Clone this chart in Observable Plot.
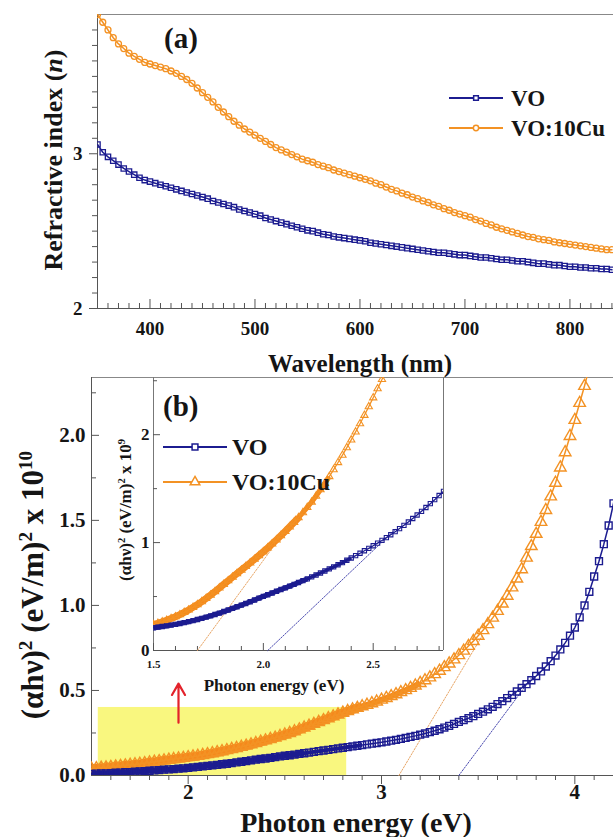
<!DOCTYPE html>
<html><head><meta charset="utf-8">
<script src="https://cdn.jsdelivr.net/npm/d3@7"></script>
<script src="https://cdn.jsdelivr.net/npm/@observablehq/plot@0.6"></script>
<style>
html,body{margin:0;padding:0;background:#fff;}
#root{position:relative;width:613px;height:837px;overflow:hidden;font-family:"Liberation Serif","Times New Roman",serif;font-weight:bold;color:#151515;}
.abs{position:absolute;white-space:nowrap;line-height:1;}
.ctr{transform:translate(-50%,-50%);}
.rot{transform:translate(-50%,-50%) rotate(-90deg);}
.plot{position:absolute;left:0;}
sup{font-size:0.62em;vertical-align:0.55em;line-height:0;}
</style></head><body><div id="root"></div>
<script>
// ---------- colours ----------
const blue = "#1c1c90", orange = "#f39224", red = "#e3222b";

// ---------- panel (a): refractive index vs wavelength ----------
const wlStart = 350, wlStep = 5; // nm, sampling grid
const nVO = [3.06,3.01,2.98,2.955,2.93,2.905,2.885,2.865,2.845,2.83,
2.82,2.81,2.80,2.79,2.78,2.77,2.76,2.75,2.74,2.73,
2.72,2.71,2.695,2.685,2.675,2.665,2.655,2.64,2.63,2.62,
2.61,2.60,2.585,2.575,2.565,2.555,2.545,2.535,2.525,2.515,
2.505,2.50,2.49,2.48,2.475,2.465,2.46,2.455,2.45,2.445,
2.44,2.435,2.425,2.42,2.415,2.41,2.405,2.40,2.395,2.39,
2.385,2.38,2.375,2.37,2.365,2.36,2.36,2.355,2.35,2.345,
2.345,2.34,2.335,2.33,2.33,2.325,2.32,2.315,2.315,2.31,
2.305,2.305,2.30,2.295,2.29,2.29,2.285,2.28,2.28,2.275,
2.27,2.27,2.265,2.265,2.26,2.26,2.255,2.255,2.25];
const nVOCu = [3.90,3.85,3.80,3.75,3.71,3.68,3.65,3.63,3.61,3.59,
3.58,3.57,3.56,3.55,3.535,3.52,3.50,3.48,3.455,3.425,
3.395,3.365,3.335,3.30,3.27,3.24,3.21,3.185,3.16,3.14,
3.12,3.10,3.08,3.06,3.04,3.025,3.01,2.995,2.98,2.965,
2.955,2.945,2.93,2.92,2.91,2.895,2.885,2.875,2.865,2.855,
2.845,2.835,2.825,2.81,2.80,2.785,2.77,2.76,2.745,2.735,
2.72,2.71,2.695,2.685,2.67,2.66,2.645,2.635,2.62,2.61,
2.60,2.59,2.575,2.565,2.55,2.54,2.525,2.515,2.505,2.495,
2.485,2.475,2.465,2.46,2.45,2.445,2.44,2.43,2.425,2.42,
2.415,2.41,2.405,2.40,2.395,2.39,2.385,2.38,2.38];
const aXMajor = [400,500,600,700,800];
const aXMinor = [360,370,380,390,410,420,430,440,450,460,470,480,490,510,520,530,540,550,560,570,580,590,610,620,630,640,650,660,670,680,690,710,720,730,740,750,760,770,780,790,810,820,830,840];
const aYMajor = [2,3];
const aYMinor = [2.1,2.2,2.3,2.4,2.5,2.6,2.7,2.8,2.9,3.1,3.2,3.3,3.4,3.5,3.6,3.7,3.8];

// ---------- panel (b): Tauc plot ----------
const eStart = 1.5, eStep = 0.025; // eV, sampling grid
const absVO = [0.010,0.011,0.012,0.013,0.014,0.016,0.017,0.019,0.020,0.022,
0.024,0.026,0.028,0.030,0.032,0.034,0.036,0.038,0.040,0.042,
0.045,0.048,0.051,0.054,0.057,0.060,0.063,0.066,0.069,0.073,
0.077,0.081,0.085,0.089,0.093,0.097,0.100,0.104,0.108,0.112,
0.116,0.119,0.123,0.127,0.131,0.135,0.139,0.143,0.147,0.151,
0.155,0.159,0.163,0.167,0.171,0.175,0.179,0.183,0.187,0.191,
0.195,0.200,0.205,0.210,0.215,0.221,0.227,0.233,0.240,0.247,
0.255,0.263,0.272,0.282,0.292,0.303,0.315,0.326,0.337,0.349,
0.362,0.375,0.389,0.404,0.420,0.437,0.455,0.474,0.494,0.515,
0.537,0.560,0.585,0.612,0.641,0.672,0.705,0.741,0.780,0.822,
0.870,0.930,1.000,1.080,1.170,1.260,1.360,1.470,1.600,1.740];
const absVOCu = [0.040,0.042,0.045,0.047,0.050,0.053,0.056,0.059,0.062,0.065,
0.068,0.072,0.076,0.080,0.084,0.088,0.092,0.096,0.100,0.103,
0.107,0.111,0.115,0.120,0.125,0.130,0.136,0.142,0.148,0.155,
0.161,0.168,0.175,0.182,0.190,0.198,0.206,0.214,0.222,0.231,
0.240,0.249,0.259,0.270,0.281,0.292,0.303,0.314,0.325,0.336,
0.347,0.358,0.368,0.378,0.388,0.397,0.406,0.415,0.424,0.434,
0.445,0.455,0.466,0.477,0.489,0.501,0.514,0.528,0.543,0.559,
0.576,0.595,0.615,0.636,0.658,0.682,0.707,0.733,0.761,0.790,
0.821,0.854,0.889,0.927,0.967,1.010,1.056,1.105,1.157,1.212,
1.280,1.348,1.420,1.490,1.560,1.640,1.720,1.810,1.900,1.995,
2.090,2.190,2.290,2.400,2.510];
const tangentMainVO = [[3.40,0],[3.78,0.58]];
const tangentMainCu = [[3.09,0],[3.52,0.82]];
const highlightBox = [{x1:1.535, x2:2.82, y1:0, y2:0.40}];
const arrowMark = [{x:1.95, y1:0.31, y2:0.54}];
const bXMajor = [2,3,4];
const bXMinor = [1.6,1.7,1.8,1.9,2.1,2.2,2.3,2.4,2.5,2.6,2.7,2.8,2.9,3.1,3.2,3.3,3.4,3.5,3.6,3.7,3.8,3.9,4.1];
const bYMajor = [0,0.5,1.0,1.5,2.0];
const bYMinor = [0.25,0.75,1.25,1.75,2.25];
// energy limits below which the measured points sit so close they merge into a solid band
const bandVO = [2.6, 2.9], bandCu = [2.9, 3.2];

// ---------- inset of (b) ----------
const insStart = 1.5, insStep = 0.02; // eV, sampling grid
const insetVO = [0.210,0.216,0.222,0.228,0.235,0.242,0.250,0.258,0.267,0.277,
0.287,0.298,0.309,0.321,0.334,0.347,0.361,0.375,0.390,0.405,
0.420,0.436,0.452,0.468,0.485,0.501,0.517,0.533,0.549,0.565,
0.581,0.597,0.613,0.630,0.647,0.664,0.682,0.700,0.718,0.737,
0.756,0.775,0.795,0.815,0.836,0.857,0.879,0.901,0.924,0.947,
0.971,0.995,1.020,1.046,1.073,1.101,1.130,1.160,1.191,1.223,
1.256,1.290,1.325,1.361,1.398,1.436,1.475];
const insetVOCu = [0.240,0.252,0.265,0.280,0.296,0.313,0.332,0.353,0.376,0.400,
0.426,0.454,0.483,0.514,0.546,0.580,0.614,0.647,0.680,0.713,
0.746,0.779,0.812,0.846,0.880,0.915,0.951,0.988,1.026,1.065,
1.105,1.146,1.188,1.232,1.278,1.326,1.376,1.432,1.490,1.550,
1.612,1.676,1.742,1.810,1.880,1.952,2.026,2.102,2.180,2.260,
2.342,2.426,2.512,2.600];
const tangentInsetVO = [[2.02,0],[2.60,1.12]];
const tangentInsetCu = [[1.70,0],[2.12,1.17]];
const insXMajor = [1.5,2.0,2.5];
const insXMinor = [1.6,1.7,1.8,1.9,2.1,2.2,2.3,2.4,2.6,2.7,2.8];
const insYMajor = [0,1,2];
const insYMinor = [0.5,1.5,2.5];
const insBandVO = [2.2, 2.4], insBandCu = [2.16, 2.3];

// ---------- build rows ----------
const rowsA = (arr, s) => arr.map((n, i) => ({w: wlStart + wlStep * i, n, s}));
const rowsE = (arr, s, st, sp) => arr.map((v, i) => ({e: +(st + sp * i).toFixed(3), v, s}));
const seg = (pts) => pts.map(([e, v]) => ({e, v}));

const root = document.getElementById("root");
const baseStyle = {fontFamily: "Liberation Serif, serif", fontWeight: "bold", color: "#151515", background: "transparent", overflow: "visible"};
const axisCol = "#555";

// ---- Panel A ----
const aW = 613, aH = 372, aML = 97, aMT = 14, aMB = 64;
const aFH = aH - aMT - aMB, aFW = aW - aML;
const rA_Cu = rowsA(nVOCu, "VO:10Cu"), rA_VO = rowsA(nVO, "VO");
const plotA = Plot.plot({
  width: aW, height: aH, marginLeft: aML, marginRight: 0, marginTop: aMT, marginBottom: aMB,
  x: {domain: [350, 841.5]}, y: {domain: [2, 3.9]},
  style: baseStyle,
  marks: [
    Plot.ruleY([3.9], {stroke: "#888"}),
    Plot.ruleX([350], {stroke: axisCol}),
    Plot.ruleY([2], {stroke: axisCol}),
    Plot.ruleX(aXMinor, {stroke: axisCol, insetTop: aFH - 5}),
    Plot.ruleX(aXMajor, {stroke: axisCol, insetTop: aFH - 9}),
    Plot.ruleY(aYMinor, {stroke: axisCol, insetLeft: -5, insetRight: aFW}),
    Plot.ruleY(aYMajor, {stroke: axisCol, insetLeft: -8, insetRight: aFW}),
    Plot.axisX({ticks: aXMajor, tickSize: 0, tickPadding: 13, fontSize: 19, fontWeight: "bold", tickFormat: "d", label: null}),
    Plot.axisY({ticks: aYMajor, tickSize: 0, tickPadding: 15, fontSize: 19, fontWeight: "bold", tickFormat: "d", label: null}),
    Plot.line(rA_Cu, {x: "w", y: "n", stroke: orange, strokeWidth: 1.5, clip: true}),
    Plot.dot(rA_Cu, {x: "w", y: "n", symbol: "circle", r: 3, stroke: orange, fill: "none", strokeWidth: 1.3, clip: true}),
    Plot.line(rA_VO, {x: "w", y: "n", stroke: blue, strokeWidth: 1.5, clip: true}),
    Plot.dot(rA_VO, {x: "w", y: "n", symbol: "square", r: 3, stroke: blue, fill: "none", strokeWidth: 1.3, clip: true})
  ]
});
plotA.classList.add("plot"); plotA.style.top = "0px";
root.appendChild(plotA);

// ---- Panel B main ----
const bTop = 365, bW = 613, bH = 472, bML = 91, bMT = 12, bMB = 62;
const bFH = bH - bMT - bMB, bFW = bW - bML;
const rB_Cu = rowsE(absVOCu, "VO:10Cu", eStart, eStep), rB_VO = rowsE(absVO, "VO", eStart, eStep);
const plotB = Plot.plot({
  width: bW, height: bH, marginLeft: bML, marginRight: 0, marginTop: bMT, marginBottom: bMB,
  x: {domain: [1.5, 4.2]}, y: {domain: [0, 2.34]},
  style: baseStyle,
  marks: [
    Plot.rect(highlightBox, {x1: "x1", x2: "x2", y1: "y1", y2: "y2", fill: "#f9f77f"}),
    Plot.ruleY([2.34], {stroke: "#888"}),
    Plot.ruleX([1.5], {stroke: axisCol}),
    Plot.ruleY([0], {stroke: axisCol}),
    Plot.ruleX(bXMinor, {stroke: axisCol, insetTop: bFH, insetBottom: -5}),
    Plot.ruleX(bXMajor, {stroke: axisCol, insetTop: bFH, insetBottom: -9}),
    Plot.ruleY(bYMinor, {stroke: axisCol, insetLeft: 0, insetRight: bFW - 5}),
    Plot.ruleY(bYMajor, {stroke: axisCol, insetLeft: 0, insetRight: bFW - 8}),
    Plot.axisX({ticks: bXMajor, tickSize: 0, tickPadding: 9, fontSize: 21, fontWeight: "bold", tickFormat: "d", label: null}),
    Plot.axisY({ticks: bYMajor, tickSize: 0, tickPadding: 6, fontSize: 21, fontWeight: "bold", tickFormat: ".1f", label: null}),
    Plot.line(seg(tangentMainCu), {x: "e", y: "v", stroke: "#e8a565", strokeWidth: 1, strokeDasharray: "1.5,1.5"}),
    Plot.line(seg(tangentMainVO), {x: "e", y: "v", stroke: "#4a4ab0", strokeWidth: 1, strokeDasharray: "1.5,1.5"}),
    Plot.line(rB_Cu.filter(d => d.e <= bandCu[1]), {x: "e", y: "v", stroke: "#f5891c", strokeWidth: 6, strokeLinecap: "butt", clip: true}),
    Plot.line(rB_Cu.filter(d => d.e <= bandCu[0]), {x: "e", y: "v", stroke: "#f5891c", strokeWidth: 9, strokeLinecap: "butt", clip: true}),
    Plot.line(rB_Cu, {x: "e", y: "v", stroke: orange, strokeWidth: 1.5, clip: true}),
    Plot.dot(rB_Cu, {x: "e", y: "v", symbol: "triangle", r: 4.3, stroke: orange, fill: "none", strokeWidth: 1.4, clip: true}),
    Plot.line(rB_VO.filter(d => d.e <= bandVO[1]), {x: "e", y: "v", stroke: blue, strokeWidth: 4, strokeLinecap: "butt", clip: true}),
    Plot.line(rB_VO.filter(d => d.e <= bandVO[0]), {x: "e", y: "v", stroke: blue, strokeWidth: 6, strokeLinecap: "butt", clip: true}),
    Plot.line(rB_VO, {x: "e", y: "v", stroke: blue, strokeWidth: 1.5, clip: true}),
    Plot.dot(rB_VO, {x: "e", y: "v", symbol: "square", r: 3.9, stroke: blue, fill: "none", strokeWidth: 1.4, clip: true}),
    Plot.arrow(arrowMark, {x1: "x", x2: "x", y1: "y1", y2: "y2", stroke: red, strokeWidth: 2.2, headLength: 10})
  ]
});
plotB.classList.add("plot"); plotB.style.top = bTop + "px";
root.appendChild(plotB);

// ---- Inset ----
const iW = 443, iH = 340, iML = 153, iMT = 12, iMB = 55;
const iFH = iH - iMT - iMB, iFW = iW - iML;
const rI_Cu = rowsE(insetVOCu, "VO:10Cu", insStart, insStep), rI_VO = rowsE(insetVO, "VO", insStart, insStep);
const plotI = Plot.plot({
  width: iW, height: iH, marginLeft: iML, marginRight: 0, marginTop: iMT, marginBottom: iMB,
  x: {domain: [1.5, 2.82]}, y: {domain: [0, 2.53]},
  style: baseStyle,
  marks: [
    Plot.ruleX([1.5], {stroke: "#777"}),
    Plot.ruleX([2.82], {stroke: "#777"}),
    Plot.ruleY([0], {stroke: axisCol}),
    Plot.ruleX(insXMinor, {stroke: axisCol, insetTop: iFH - 4}),
    Plot.ruleX(insXMajor, {stroke: axisCol, insetTop: iFH - 7}),
    Plot.ruleY(insYMinor, {stroke: axisCol, insetLeft: 0, insetRight: iFW - 4}),
    Plot.ruleY(insYMajor, {stroke: axisCol, insetLeft: 0, insetRight: iFW - 7}),
    Plot.axisX({ticks: insXMajor, tickSize: 0, tickPadding: 10, fontSize: 11, fontWeight: "bold", tickFormat: ".1f", label: null}),
    Plot.axisY({ticks: insYMajor, tickSize: 0, tickPadding: 4, fontSize: 17, fontWeight: "bold", tickFormat: "d", label: null}),
    Plot.line(seg(tangentInsetCu), {x: "e", y: "v", stroke: "#e8a565", strokeWidth: 1, strokeDasharray: "1.5,1.5"}),
    Plot.line(seg(tangentInsetVO), {x: "e", y: "v", stroke: "#4a4ab0", strokeWidth: 1, strokeDasharray: "1.5,1.5"}),
    Plot.line(rI_Cu.filter(d => d.e <= insBandCu[1]), {x: "e", y: "v", stroke: "#f5891c", strokeWidth: 5, strokeLinecap: "butt", clip: true}),
    Plot.line(rI_Cu.filter(d => d.e <= insBandCu[0]), {x: "e", y: "v", stroke: "#f5891c", strokeWidth: 7, strokeLinecap: "butt", clip: true}),
    Plot.line(rI_Cu, {x: "e", y: "v", stroke: orange, strokeWidth: 1.3, clip: true}),
    Plot.dot(rI_Cu, {x: "e", y: "v", symbol: "triangle", r: 2.7, stroke: orange, fill: "none", strokeWidth: 1.1, clip: true}),
    Plot.line(rI_VO.filter(d => d.e <= insBandVO[1]), {x: "e", y: "v", stroke: blue, strokeWidth: 3.5, strokeLinecap: "butt", clip: true}),
    Plot.line(rI_VO.filter(d => d.e <= insBandVO[0]), {x: "e", y: "v", stroke: blue, strokeWidth: 5, strokeLinecap: "butt", clip: true}),
    Plot.line(rI_VO, {x: "e", y: "v", stroke: blue, strokeWidth: 1.3, clip: true}),
    Plot.dot(rI_VO, {x: "e", y: "v", symbol: "square", r: 2.4, stroke: blue, fill: "none", strokeWidth: 1.1, clip: true})
  ]
});
plotI.classList.add("plot"); plotI.style.top = bTop + "px";
root.appendChild(plotI);

// ---------- text, legends ----------
function addText(html, left, top, cls, size, extra) {
  const d = document.createElement("div");
  d.className = "abs " + (cls || "");
  d.style.left = left + "px"; d.style.top = top + "px"; d.style.fontSize = size + "px";
  if (extra) Object.assign(d.style, extra);
  d.innerHTML = html;
  root.appendChild(d);
}
function legendSample(left, top, color, symbol, len, size) {
  const ns = "http://www.w3.org/2000/svg";
  const s = document.createElementNS(ns, "svg");
  s.setAttribute("width", len + 4); s.setAttribute("height", 16);
  s.style.position = "absolute"; s.style.left = (left - 2) + "px"; s.style.top = (top - 8) + "px";
  const l = document.createElementNS(ns, "line");
  l.setAttribute("x1", 2); l.setAttribute("x2", len + 2); l.setAttribute("y1", 8); l.setAttribute("y2", 8);
  l.setAttribute("stroke", color); l.setAttribute("stroke-width", 2.2);
  s.appendChild(l);
  const p = document.createElementNS(ns, "path");
  p.setAttribute("d", d3.symbol(symbol === "square" ? d3.symbolSquare : symbol === "circle" ? d3.symbolCircle : d3.symbolTriangle, size)());
  p.setAttribute("transform", `translate(${len / 2 + 2},8)`);
  p.setAttribute("fill", "#fff"); p.setAttribute("stroke", color); p.setAttribute("stroke-width", 1.5);
  s.appendChild(p);
  root.appendChild(s);
}

// panel (a)
addText("(a)", 164, 24, "", 29);
legendSample(449, 98, blue, "square", 54, 22);
legendSample(449, 128, orange, "circle", 54, 22);
addText("VO", 511, 87, "", 23);
addText("VO:10Cu", 511, 117, "", 23);
addText("Wavelength (nm)", 360, 363, "ctr", 25);
addText("Refractive index (<i>n</i>)", 54, 160, "rot", 26);

// panel (b)
addText("(b)", 163, 392, "", 29);
legendSample(163, 447, blue, "square", 64, 34);
legendSample(163, 482, orange, "triangle", 64, 40);
addText("VO", 232, 435, "", 24);
addText("VO:10Cu", 232, 470, "", 24);
addText("Photon energy (eV)", 274, 685, "ctr", 17);
addText("(αhν)<sup>2</sup> (eV/m)<sup>2</sup> x 10<sup>9</sup>", 125, 510, "rot", 17);
addText("Photon energy (eV)", 356, 823, "ctr", 28);
addText("(αhν)<sup>2</sup> (eV/m)<sup>2</sup> x 10<sup>10</sup>", 32, 585, "rot", 31);
</script></body></html>
